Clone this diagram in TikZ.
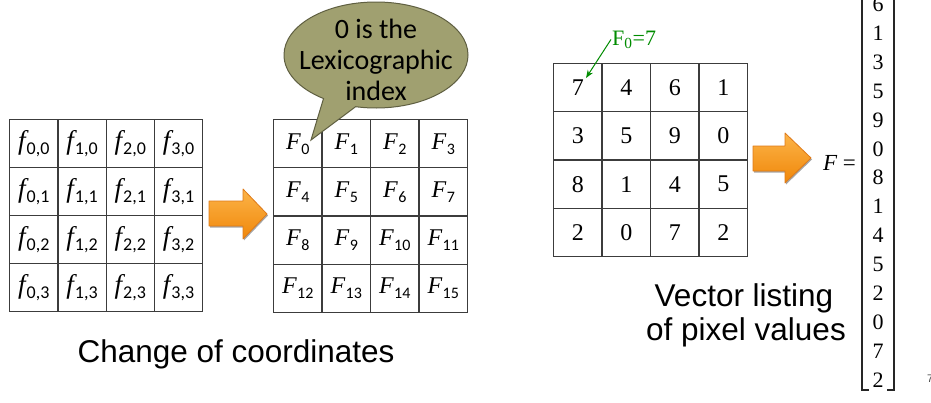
\documentclass[tikz,border=0pt]{standalone}
\usepackage{fontspec}
\setmainfont{Liberation Serif}
\newfontfamily\arialf{Liberation Sans}
\newfontfamily\calf{Carlito}
\usetikzlibrary{shapes.callouts,shadows,arrows.meta}
\definecolor{gridline}{RGB}{60,60,60}
\definecolor{calloutfill}{RGB}{160,160,112}
\definecolor{calloutdraw}{RGB}{95,95,65}
\definecolor{arrtop}{RGB}{252,180,72}
\definecolor{arrbot}{RGB}{240,135,10}
\definecolor{arrdraw}{RGB}{222,122,25}
\definecolor{labgreen}{RGB}{0,140,0}
\newcommand\fsubl[2]{{\fontsize{27}{27}\selectfont\itshape f}\kern1pt\raisebox{-4.5pt}{\fontsize{18}{18}\selectfont\calf #1,#2}}
\newcommand\Fsubl[1]{{\fontsize{24}{24}\selectfont\itshape F}\kern0.5pt\raisebox{-5pt}{\fontsize{16}{16}\selectfont\calf #1}}
\tikzset{
  cell/.style={draw=gridline, line width=1.2pt, minimum width=48.3pt, minimum height=48.2pt, inner sep=0pt, anchor=north west},
  fatarrow/.style={top color=arrtop, bottom color=arrbot, draw=arrdraw, line width=0.8pt, line join=round,
     drop shadow={shadow xshift=1pt, shadow yshift=-1.5pt, opacity=0.35, fill=black}},
  numtxt/.style={font=\fontsize{24}{24}\selectfont},
  vectxt/.style={font=\fontsize{22}{22}\selectfont, inner sep=0pt},
  bigsans/.style={font=\arialf\fontsize{31.5}{31.5}\selectfont, anchor=base, inner sep=0pt},
  bracketline/.style={line width=1.2pt, draw=black!85}
}
\begin{document}
\begin{tikzpicture}[x=1pt,y=-1pt]
\fill[white] (0,0) rectangle (931,402);
\useasboundingbox (0,0) rectangle (931,402);

% left grid
\foreach \c in {0,...,3}
  \foreach \r in {0,...,3}
    \node[cell] (a\c\r) at ({9+48.25*\c},{119+48*\r}) {\raisebox{-2pt}{\fsubl{\c}{\r}}};

% middle grid
\foreach \c in {0,...,3}
  \foreach \r in {0,...,3} {
    \pgfmathtruncatemacro\kk{\r*4+\c}
    \node[cell] (b\c\r) at ({273+48.5*\c},{119+48.25*\r}) {\raisebox{-4pt}{\Fsubl{\kk}}};
  }

% right grid
\foreach \v [count=\i from 0] in {7,4,6,1,3,5,9,0,8,1,4,5,2,0,7,2} {
  \pgfmathtruncatemacro\cc{mod(\i,4)}
  \pgfmathtruncatemacro\rr{int(\i/4)}
  \node[cell, numtxt] (c\cc\rr) at ({553+48.5*\cc},{63+48.25*\rr}) {\v};
}

% orange arrows
\draw[fatarrow] (209,201) -- (243,201) -- (243,189) -- (267,214) -- (243,239) -- (243,226) -- (209,226) -- cycle;
\draw[fatarrow] (753,146) -- (785,146) -- (785,133) -- (811,158) -- (785,183) -- (785,171) -- (753,171) -- cycle;

% callout
\node[ellipse callout, draw=calloutdraw, fill=calloutfill, line width=1pt, minimum width=184pt, minimum height=106pt,
      inner sep=0pt, callout absolute pointer={(311,140)}, callout pointer arc=22] (note) at (376,55) {};
\node[align=center, font=\calf\fontsize{28}{31}\selectfont, inner sep=0pt] (notetext) at (376,60) {0 is the\\Lexicographic\\index};

% green label
\node[anchor=base west, text=labgreen, font=\fontsize{22}{22}\selectfont, inner sep=1pt] (F0lab) at (611,45) {F\textsubscript{0}=7};
\coordinate (F0tip) at (586,78);
\draw[-{Stealth[length=8pt,width=6pt]}, labgreen, line width=1pt] (F0lab.west) -- (F0tip);

% vector
\node[anchor=east, font=\fontsize{23}{23}\selectfont, inner sep=0pt] (Feq) at (856,163) {{\itshape F} =};
\foreach \v [count=\i from 0] in {6,1,3,5,9,0,8,1,4,5,2,0,7,2}
  \node[vectxt] (v\i) at (878,{4.3+28.9*\i}) {\v};
\draw[bracketline] (862,-10) -- (862,390) -- (869,390);
\draw[bracketline] (894,-10) -- (894,390) -- (887,390);

% captions
\node[bigsans] (chg) at (236,362) {Change of coordinates};
\node[bigsans] (vec1) at (744,306) {Vector listing};
\node[bigsans] (vec2) at (746,340) {of pixel values};

% page number (cut off)
\node[anchor=west, font=\arialf\fontsize{11}{11}\selectfont, text=black!70, inner sep=0pt] (pg) at (927,379) {7};
\end{tikzpicture}
\end{document}
